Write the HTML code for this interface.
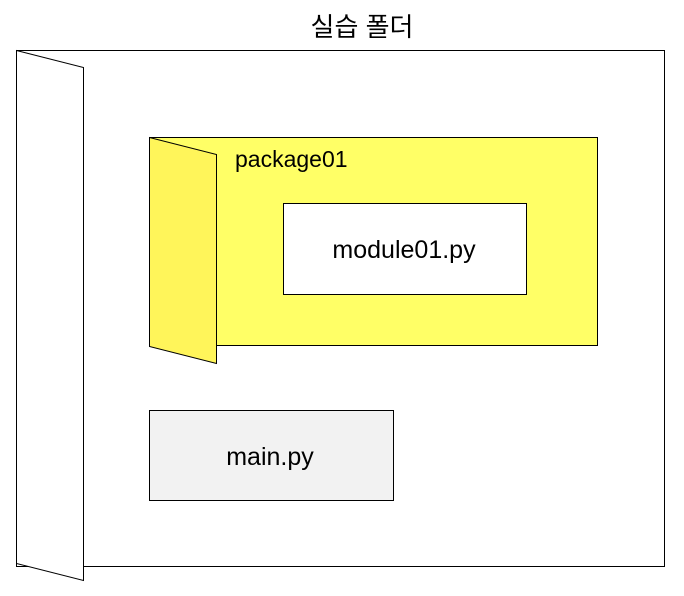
<!DOCTYPE html>
<html><head><meta charset="utf-8"><style>body{margin:0;background:#fff}svg{display:block}</style></head><body>
<svg width="684" height="596" xmlns="http://www.w3.org/2000/svg" font-family="'Liberation Sans','Noto Sans CJK KR',sans-serif">
<text x="362" y="36" font-size="26" text-anchor="middle">실습 폴더</text>
<rect x="16.5" y="50.5" width="648" height="516" fill="#fff" stroke="#000"/>
<polygon points="16.5,50.5 83.5,67.5 83.5,580.5 16.5,563.5" fill="#fff" stroke="#000"/>
<rect x="149.5" y="137.5" width="448" height="208" fill="#ffff66" stroke="#000"/>
<polygon points="149.5,137.5 216.5,154.5 216.5,363.5 149.5,346.5" fill="#fff55a" stroke="#000"/>
<text x="235" y="167" font-size="23">package01</text>
<rect x="283.5" y="203.5" width="243" height="91" fill="#fff" stroke="#000"/>
<text x="404" y="258" font-size="25" text-anchor="middle">module01.py</text>
<rect x="149.5" y="410.5" width="244" height="90" fill="#f2f2f2" stroke="#000"/>
<text x="270" y="465" font-size="25" text-anchor="middle">main.py</text>
</svg>
</body></html>
